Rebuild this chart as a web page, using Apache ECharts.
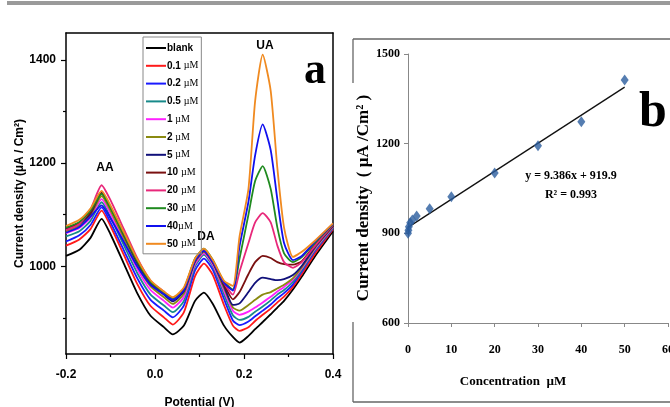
<!DOCTYPE html>
<html>
<head>
<meta charset="utf-8">
<script src="https://cdn.jsdelivr.net/npm/echarts@6/dist/echarts.min.js"></script>
<style>
html, body { margin: 0; padding: 0; background: #fff; }
#main { width: 670px; height: 407px; }
</style>
</head>
<body>
<div id="main"></div>
<script>
// panel a: potentials (V) and current density (µA/cm2) for each concentration
var potential = [-0.2, -0.17, -0.145, -0.12, -0.1, -0.07, -0.04, -0.01, 0.02, 0.04, 0.065, 0.09, 0.11, 0.13, 0.155, 0.175, 0.19, 0.21, 0.225, 0.242, 0.26, 0.275, 0.29, 0.31, 0.33, 0.36, 0.4];
var blank  = [1020, 1032, 1055, 1092, 1062, 1005, 948, 904, 882, 868, 885, 933, 949, 927, 885, 863, 852, 865, 878, 892, 907, 920, 933, 955, 980, 1020, 1068];
var uM0_1  = [1040, 1052, 1072, 1108, 1078, 1022, 966, 923, 901, 887, 911, 981, 1005, 983, 925, 885, 875, 882, 894, 906, 918, 930, 941, 960, 985, 1025, 1072];
var uM0_2  = [1048, 1060, 1080, 1114, 1085, 1031, 977, 935, 914, 901, 924, 992, 1015, 993, 937, 895, 886, 893, 903, 914, 926, 938, 948, 965, 990, 1030, 1074];
var uM0_5  = [1058, 1068, 1088, 1124, 1095, 1041, 987, 945, 924, 911, 933, 1000, 1022, 1000, 946, 905, 896, 902, 912, 922, 934, 945, 954, 970, 993, 1032, 1075];
var uM1    = [1064, 1074, 1094, 1130, 1102, 1049, 995, 954, 933, 920, 941, 1004, 1025, 1003, 953, 914, 906, 912, 920, 930, 941, 951, 960, 974, 996, 1034, 1076];
var uM2    = [1068, 1078, 1098, 1136, 1108, 1055, 1002, 961, 940, 927, 947, 1008, 1028, 1006, 958, 920, 914, 925, 935, 945, 950, 957, 964, 977, 998, 1036, 1077];
var uM5    = [1072, 1082, 1102, 1142, 1114, 1061, 1007, 966, 945, 932, 952, 1010, 1030, 1008, 962, 925, 928, 950, 968, 978, 975, 973, 975, 983, 1001, 1038, 1078];
var uM10   = [1074, 1084, 1104, 1142, 1114, 1062, 1009, 968, 948, 935, 954, 1011, 1030, 1008, 965, 936, 950, 985, 1008, 1020, 1016, 1008, 1004, 1003, 1010, 1042, 1079];
var uM20   = [1070, 1082, 1110, 1157, 1128, 1072, 1016, 972, 951, 937, 956, 1013, 1032, 1010, 968, 945, 990, 1045, 1085, 1103, 1085, 1040, 1008, 997, 1008, 1040, 1080];
var uM30   = [1075, 1086, 1108, 1140, 1113, 1062, 1010, 970, 949, 938, 957, 1015, 1034, 1012, 970, 955, 1015, 1100, 1165, 1194, 1150, 1075, 1025, 1008, 1018, 1046, 1081];
var uM40   = [1065, 1076, 1096, 1118, 1093, 1047, 1000, 964, 946, 935, 954, 1011, 1030, 1008, 968, 953, 1039, 1125, 1215, 1275, 1225, 1129, 1045, 1012, 1020, 1048, 1082];
var uM50   = [1078, 1090, 1112, 1146, 1118, 1066, 1014, 973, 951, 940, 959, 1015, 1034, 1012, 972, 962, 1058, 1150, 1320, 1410, 1340, 1190, 1075, 1018, 1028, 1050, 1083];
var seriesNames = ['blank', '0.1 µM', '0.2 µM', '0.5 µM', '1 µM', '2 µM', '5 µM', '10 µM', '20 µM', '30 µM', '40µM', '50 µM'];
var yTicksA = [1000, 1200, 1400];
var yMinorA = [900, 1100, 1300];

// panel b: calibration points and fitted line
var concentration = [0, 0.1, 0.2, 0.5, 1, 2, 5, 10, 20, 30, 40, 50];
var currentDensity = [900, 910, 922, 935, 945, 958, 982, 1022, 1102, 1193, 1273, 1413];
var fitX = [0, 50];
var fitY = [919.9, 1389.2];

var curves = [blank, uM0_1, uM0_2, uM0_5, uM1, uM2, uM5, uM10, uM20, uM30, uM40, uM50];
var lineColors = ['#000000', '#ff1a1a', '#1a1aff', '#188a8a', '#ff22ff', '#8a8a10', '#10107a', '#7a1010', '#e8287a', '#1f8a1f', '#1010ee', '#f08a20'];

var sansB = '"Liberation Sans Narrow", "Liberation Sans", Arial, sans-serif';
var serif = '"Liberation Serif", "Times New Roman", serif';

var chart = echarts.init(document.getElementById('main'), null, { renderer: 'canvas' });

var series = curves.map(function(c, k) {
    return {
        name: seriesNames[k],
        type: 'line',
        xAxisIndex: 0,
        yAxisIndex: 0,
        data: potential.map(function(p, i) { return [p, c[i]]; }),
        symbol: 'none',
        smooth: 0.2,
        lineStyle: { color: lineColors[k], width: 1.8 },
        itemStyle: { color: lineColors[k] }
    };
});
series.push({
    name: 'fit',
    type: 'line',
    xAxisIndex: 2,
    yAxisIndex: 3,
    data: fitX.map(function(x, i) { return [x, fitY[i]]; }),
    symbol: 'none',
    lineStyle: { color: '#111', width: 1.3 }
});
series.push({
    name: 'points',
    type: 'scatter',
    xAxisIndex: 2,
    yAxisIndex: 3,
    data: concentration.map(function(x, i) { return [x, currentDensity[i]]; }),
    symbol: 'diamond',
    symbolSize: [8, 11],
    itemStyle: { color: '#2b5d9e' },
    z: 3
});

function plain(v) { return String(v); }
var tickLabA = { color: '#000', fontFamily: sansB, fontWeight: 'bold', fontSize: 12 };
var tickLabB = { color: '#000', fontFamily: serif, fontWeight: 'bold', fontSize: 12, formatter: plain };

chart.setOption({
    animation: false,
    backgroundColor: '#fff',
    grid: [
        { left: 66, top: 33, right: 337, bottom: 53, outerBoundsMode: 'none' },
        { left: 408, top: 54, right: 2, bottom: 84, outerBoundsMode: 'none' }
    ],
    legend: {
        data: seriesNames,
        orient: 'vertical',
        left: 143,
        top: 37,
        padding: [5, 3, 4, 3],
        borderColor: '#888',
        borderWidth: 1,
        icon: 'rect',
        itemWidth: 20,
        itemHeight: 2,
        itemGap: 5.8,
        selectedMode: false,
        textStyle: {
            padding: [0, 0, 0, -4],
            lineHeight: 12,
            rich: {
                n: { fontFamily: sansB, fontWeight: 'bold', fontSize: 10, color: '#000', lineHeight: 12 },
                u: { fontFamily: serif, fontSize: 10, color: '#000', lineHeight: 12 }
            }
        },
        formatter: function(n) {
            var i = n.indexOf('µ');
            if (i < 0) return '{n|' + n + '}';
            return '{n|' + n.slice(0, i) + '}{u|µM}';
        }
    },
    xAxis: [
        {
            type: 'value', gridIndex: 0, min: -0.2, max: 0.4, interval: 0.2,
            name: 'Potential (V)', nameLocation: 'middle', nameGap: 43,
            nameTextStyle: { fontFamily: 'Liberation Sans, Arial, sans-serif', fontWeight: 'bold', fontSize: 12, color: '#000' },
            axisLine: { onZero: false, lineStyle: { color: '#000', width: 1.5 } },
            axisTick: { length: 5, lineStyle: { color: '#000', width: 1.2 } },
            minorTick: { show: true, splitNumber: 2, length: 3, lineStyle: { color: '#000', width: 1.2 } },
            axisLabel: Object.assign({ margin: 15, formatter: function(v) { return v.toFixed(1); } }, tickLabA),
            splitLine: { show: false }
        },
        {
            type: 'value', gridIndex: 0, position: 'top', min: -0.2, max: 0.4,
            axisLine: { onZero: false, lineStyle: { color: '#000', width: 1.5 } },
            axisTick: { show: false }, axisLabel: { show: false }, splitLine: { show: false }
        },
        {
            type: 'value', gridIndex: 1, min: 0, max: 60, interval: 10,
            axisLine: { onZero: false, lineStyle: { color: '#888', width: 1 } },
            axisTick: { length: 4, lineStyle: { color: '#888' } },
            axisLabel: Object.assign({}, tickLabB, { margin: 21 }),
            splitLine: { show: false }
        }
    ],
    yAxis: [
        {
            type: 'value', gridIndex: 0, min: 830, max: 1452,
            name: 'Current density (µA / Cm²)', nameLocation: 'middle', nameGap: 34,
            nameTextStyle: { fontFamily: 'Liberation Sans, Arial, sans-serif', fontWeight: 'bold', fontSize: 12, color: '#000' },
            axisLine: { onZero: false, lineStyle: { color: '#000', width: 1.5 } },
            axisTick: { length: 5, customValues: yTicksA, lineStyle: { color: '#000', width: 1.2 } },
            axisLabel: Object.assign({ margin: 10, customValues: yTicksA, formatter: plain }, tickLabA),
            splitLine: { show: false }
        },
        {
            type: 'value', gridIndex: 0, position: 'left', min: 830, max: 1452,
            axisLine: { show: false, onZero: false },
            axisTick: { length: 3, customValues: yMinorA, lineStyle: { color: '#000', width: 1.2 } },
            axisLabel: { show: false }, splitLine: { show: false }
        },
        {
            type: 'value', gridIndex: 0, position: 'right', min: 830, max: 1452,
            axisLine: { show: true, onZero: false, lineStyle: { color: '#000', width: 1.5 } },
            axisTick: { show: false }, axisLabel: { show: false }, splitLine: { show: false }
        },
        {
            type: 'value', gridIndex: 1, min: 600, max: 1500, interval: 300,
            axisLine: { show: true, onZero: false, lineStyle: { color: '#888', width: 1 } },
            axisTick: { show: true, length: 4, lineStyle: { color: '#888' } },
            axisLabel: Object.assign({}, tickLabB, { margin: 8 }),
            splitLine: { show: false }
        }
    ],
    series: series,
    graphic: [
        { type: 'rect', shape: { x: 7, y: 1, width: 663, height: 4 }, style: { fill: '#9a9a9a' } },
        // frame of panel b
        { type: 'line', shape: { x1: 353, y1: 39, x2: 670, y2: 39 }, style: { stroke: '#666', lineWidth: 1.3 } },
        { type: 'line', shape: { x1: 353, y1: 39, x2: 353, y2: 83 }, style: { stroke: '#666', lineWidth: 1.3 } },
        { type: 'line', shape: { x1: 353, y1: 322, x2: 353, y2: 402 }, style: { stroke: '#666', lineWidth: 1.3 } },
        { type: 'line', shape: { x1: 353, y1: 402, x2: 670, y2: 402 }, style: { stroke: '#666', lineWidth: 1.3 } },
        // peak labels
        { type: 'text', x: 105, y: 168, style: { text: 'AA', font: 'bold 12px ' + sansB, fill: '#000', align: 'center', verticalAlign: 'middle' } },
        { type: 'text', x: 206, y: 237, style: { text: 'DA', font: 'bold 12px ' + sansB, fill: '#000', align: 'center', verticalAlign: 'middle' } },
        { type: 'text', x: 265, y: 46, style: { text: 'UA', font: 'bold 12px ' + sansB, fill: '#000', align: 'center', verticalAlign: 'middle' } },
        { type: 'text', x: 315, y: 72, style: { text: 'a', font: 'bold 44px ' + serif, fill: '#000', align: 'center', verticalAlign: 'middle' } },
        { type: 'text', x: 653, y: 113, style: { text: 'b', font: 'bold 50px ' + serif, fill: '#000', align: 'center', verticalAlign: 'middle' } },
        // regression
        { type: 'text', x: 571, y: 176, style: { text: 'y = 9.386x + 919.9', font: 'bold 12px ' + serif, fill: '#000', align: 'center', verticalAlign: 'middle' } },
        { type: 'text', x: 571, y: 195, style: { text: 'R² = 0.993', font: 'bold 12px ' + serif, fill: '#000', align: 'center', verticalAlign: 'middle' } },
        // panel b axis titles
        { type: 'text', x: 513, y: 382, style: { text: 'Concentration  µM', font: 'bold 13px ' + serif, fill: '#000', align: 'center', verticalAlign: 'middle' } },
        { type: 'text', x: 364, y: 198, rotation: Math.PI / 2, style: { text: 'Current density  ( µA /Cm² )', font: 'bold 17px ' + serif, fill: '#000', align: 'center', verticalAlign: 'middle' } }
    ]
});
</script>
</body>
</html>
